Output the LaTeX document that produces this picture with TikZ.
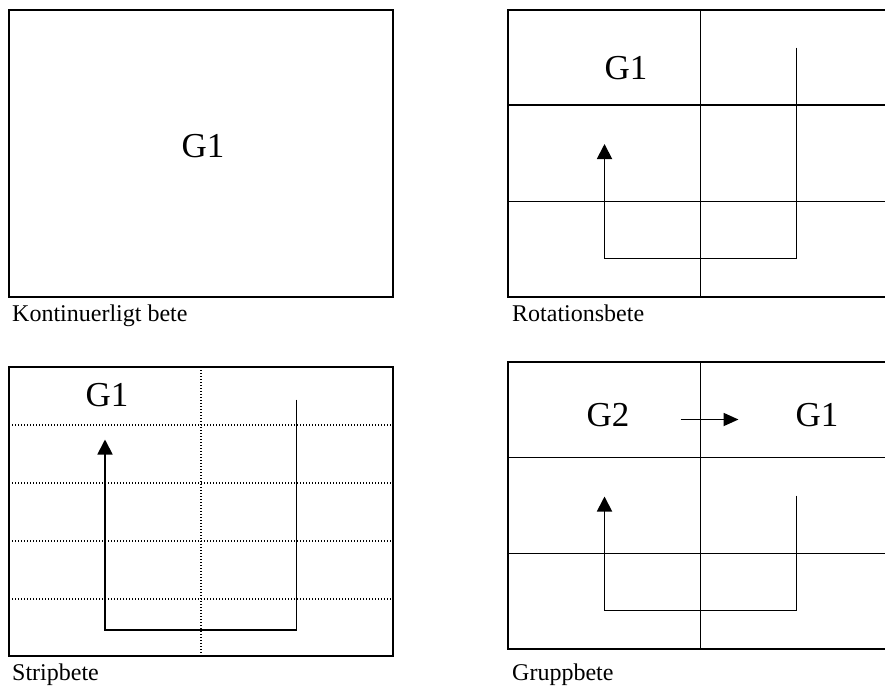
\documentclass[tikz,border=0pt]{standalone}
\usepackage{fontspec}
\setmainfont{Liberation Serif}
\usetikzlibrary{arrows.meta}
\begin{document}
\begin{tikzpicture}[x=1pt,y=-1pt,
  frame/.style={line width=1.8pt},
  stripline/.style={line width=1.3pt,dash pattern=on 1.3pt off 1.7pt},
  route/.style={line width=1.8pt,-{Triangle[length=15pt,width=15pt]}},
  field/.style={font=\fontsize{35}{40}\selectfont,inner sep=0pt,anchor=base},
  caption/.style={font=\fontsize{24}{28}\selectfont,inner sep=0pt,anchor=base west}]
\useasboundingbox (0,0) rectangle (885,688);
\clip (0,0) rectangle (885,688);

% Kontinuerligt bete
\draw[frame] (9,10) rectangle (393,297);
\node[field] (kont) at (203,157) {G1};
\node[caption] (kontcap) at (12,321) {Kontinuerligt bete};

% Rotationsbete
\draw[frame] (508,10) rectangle (893,297);
\draw[frame] (700.5,10) -- (700.5,297);
\draw[frame] (508,105) -- (893,105) (508,201.5) -- (893,201.5);
\node[field] (rotg) at (626,79) {G1};
\coordinate (rotstart) at (796.5,47.5);
\coordinate (rotturn) at (604.5,258.5);
\coordinate (rotend) at (604.5,144);
\draw[route] (rotstart) |- (rotturn) -- (rotend);
\node[caption] (rotcap) at (512,321) {Rotationsbete};

% Stripbete
\draw[frame] (9,367) rectangle (393,656);
\draw[stripline] (201,367) -- (201,656);
\foreach \y in {425,483,541,599}
  \draw[stripline] (9,\y) -- (393,\y);
\node[field] (stripg) at (107,406) {G1};
\coordinate (stripstart) at (296.5,399.5);
\coordinate (stripturn) at (105,630);
\coordinate (stripend) at (105,439.5);
\draw[route] (stripstart) |- (stripturn) -- (stripend);
\node[caption] (stripcap) at (12,680) {Stripbete};

% Gruppbete
\draw[frame] (508,362) rectangle (893,649);
\draw[frame] (700.5,362) -- (700.5,649);
\draw[frame] (508,457.5) -- (893,457.5) (508,553.5) -- (893,553.5);
\node[field] (gruppa) at (608,426) {G2};
\node[field] (gruppb) at (817,426) {G1};
\coordinate (moveout) at (680.5,419.5);
\coordinate (movein) at (738.5,419.5);
\draw[line width=1.8pt,-{Triangle[length=15pt,width=13pt]}] (moveout) -- (movein);
\coordinate (gruppstart) at (796.5,495.5);
\coordinate (gruppturn) at (604.5,610.5);
\coordinate (gruppend) at (604.5,496.5);
\draw[route] (gruppstart) |- (gruppturn) -- (gruppend);
\node[caption] (gruppcap) at (512,680) {Gruppbete};
\end{tikzpicture}
\end{document}
